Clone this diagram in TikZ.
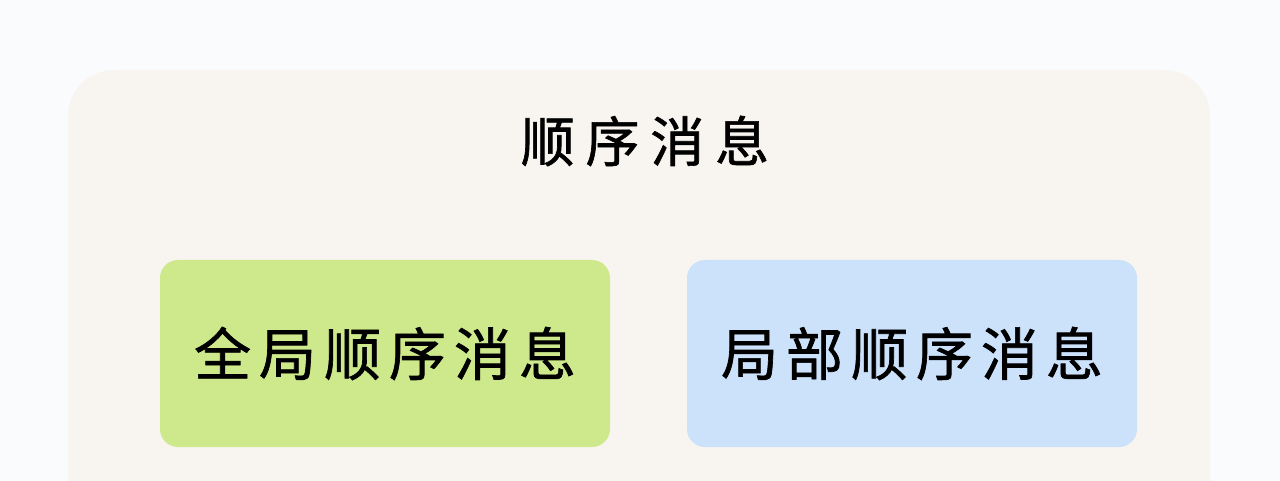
\documentclass[tikz,border=0pt]{standalone}
\usepackage{fontspec}
\newfontfamily\cjk[LetterSpace=14,FakeBold=1.2]{Noto Sans CJK SC}
\newfontfamily\cjktitle[LetterSpace=20,FakeBold=1.2]{Noto Sans CJK SC}
\definecolor{pagebg}{HTML}{F9FBFC}
\definecolor{panelbg}{HTML}{F8F5F0}
\definecolor{greenbox}{HTML}{CEE98B}
\definecolor{bluebox}{HTML}{CCE1FA}
\tikzset{
  panel/.style={fill=panelbg, draw=none, rounded corners=46pt, minimum width=1142pt, minimum height=460pt, inner sep=0pt},
  kindbox/.style={draw=none, rounded corners=18pt, minimum width=450pt, minimum height=187pt, inner sep=0pt, font=\cjk\fontsize{57}{60}\selectfont, text=black},
  titletext/.style={font=\cjktitle\fontsize{54}{58}\selectfont, text=black, inner sep=0pt}
}
\begin{document}
\begin{tikzpicture}[x=1pt,y=-1pt]
\useasboundingbox (0,0) rectangle (1280,481);
\fill[pagebg] (0,0) rectangle (1280,481);
\clip (0,0) rectangle (1280,481);
\node[panel] (panel) at (639,300) {};
\node[titletext] (title) at (645,141) {顺序消息};
\node[kindbox, fill=greenbox] (global) at (385,353.5) {全局顺序消息};
\node[kindbox, fill=bluebox] (partial) at (912,353.5) {局部顺序消息};
\end{tikzpicture}
\end{document}
